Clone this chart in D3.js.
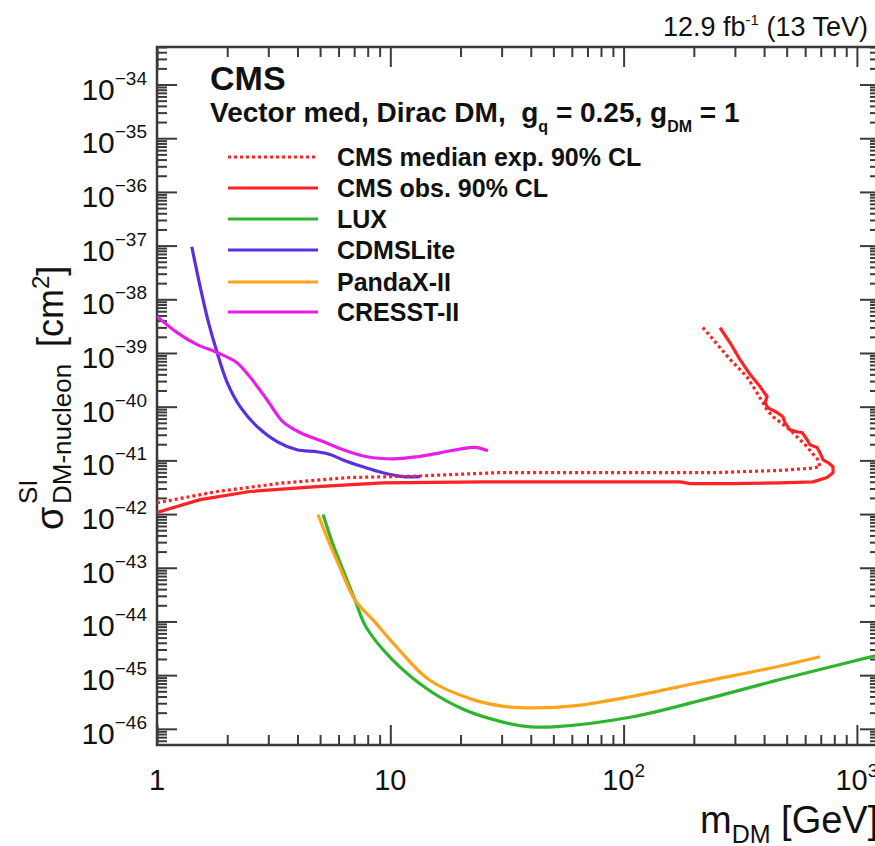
<!DOCTYPE html>
<html><head><meta charset="utf-8">
<script src="https://cdn.jsdelivr.net/npm/d3@7"></script>
<style>
body{margin:0;background:#fff}
svg{display:block}
text{font-family:"Liberation Sans",Arial,Helvetica,sans-serif;fill:#111}
</style>
</head><body><svg id="c" width="875" height="846"></svg>
<script>
// ---------- data ----------
const xDomain = [1, 1256];
const yDomain = [5e-47, 5e-34];
const xMajorTicks = [1, 10, 100, 1000];
const xTickLabels = [["1", ""], ["10", ""], ["10", "2"], ["10", "3"]];
const yExponents = [-34, -35, -36, -37, -38, -39, -40, -41, -42, -43, -44, -45, -46];

const cmsExpMass = [1, 1.81, 3.47, 6.72, 13.0, 28.7, 65, 242, 468, 648, 695, 681, 600, 517, 437, 412, 373, 338, 286, 242, 217];
const cmsExpSigma = [1.62e-42, 2.63e-42, 3.8e-42, 4.8e-42, 5.1e-42, 5.9e-42, 5.9e-42, 5.9e-42, 6.5e-42, 7.2e-42, 7.6e-42, 1.02e-41, 1.95e-41, 3.7e-41, 6.5e-41, 8.7e-41, 1.82e-40, 3.6e-40, 7.6e-40, 1.78e-39, 3.1e-39];

const cmsObsMass = [1, 1.53, 2.5, 4.85, 9.3, 25, 65, 175, 193, 286, 468, 648, 745, 790, 790, 752, 716, 695, 675, 629, 611, 582, 554, 517, 492, 482, 455, 416, 404, 412, 385, 348, 315, 286, 259];
const cmsObsSigma = [1.07e-42, 1.86e-42, 2.63e-42, 3.24e-42, 3.8e-42, 3.98e-42, 3.98e-42, 3.98e-42, 3.7e-42, 3.7e-42, 3.8e-42, 3.98e-42, 4.8e-42, 5.9e-42, 7.6e-42, 9.1e-42, 1.02e-41, 1.38e-41, 1.74e-41, 1.95e-41, 2.45e-41, 3.3e-41, 3.4e-41, 3.7e-41, 5.0e-41, 6.5e-41, 7.8e-41, 9.5e-41, 1.17e-40, 1.55e-40, 2.34e-40, 4.0e-40, 7.6e-40, 1.55e-39, 2.95e-39];

const luxMass = [5.15, 5.68, 6.39, 7.06, 7.87, 10.2, 14.5, 20.9, 30.1, 38.9, 51.8, 108, 221, 459, 944, 1300];
const luxSigma = [9.8e-43, 2.7e-43, 7.4e-44, 2.5e-44, 7.9e-45, 1.95e-45, 5.4e-46, 2.24e-46, 1.35e-46, 1.1e-46, 1.1e-46, 1.66e-46, 3.5e-46, 8.1e-46, 1.78e-45, 2.5e-45];

const cdmsMass = [1.41, 1.53, 1.65, 1.81, 2.0, 2.27, 2.68, 3.27, 3.98, 4.85, 5.52, 6.27, 7.64, 9.3, 11.3, 13.4];
const cdmsSigma = [9.5e-38, 1.74e-38, 4.2e-39, 1.02e-39, 2.8e-40, 1.0e-40, 4.3e-41, 2.24e-41, 1.58e-41, 1.45e-41, 1.29e-41, 1.02e-41, 7.6e-42, 5.9e-42, 5.0e-42, 5.0e-42];

const pandaMass = [4.90, 5.41, 6.09, 7.06, 8.43, 10.6, 14.7, 22.6, 31.3, 41.7, 62.5, 108, 221, 459, 695];
const pandaSigma = [9.8e-43, 3.3e-43, 1.0e-43, 2.5e-44, 1.07e-44, 3.4e-45, 8.1e-46, 3.5e-46, 2.6e-46, 2.45e-46, 2.7e-46, 4.0e-46, 7.6e-46, 1.45e-45, 2.2e-45];

const cresstMass = [1.0, 1.22, 1.48, 1.81, 2.2, 2.5, 2.96, 3.47, 4.1, 5.15, 6.27, 7.94, 10.3, 13.0, 16.3, 20.5, 23.1, 26.2];
const cresstSigma = [4.8e-39, 2.4e-39, 1.45e-39, 1.02e-39, 6.6e-40, 3.6e-40, 1.35e-40, 5.2e-41, 3.3e-41, 2.24e-41, 1.58e-41, 1.17e-41, 1.07e-41, 1.17e-41, 1.38e-41, 1.66e-41, 1.74e-41, 1.51e-41];

const legendLabels = ["CMS median exp. 90% CL", "CMS obs. 90% CL", "LUX", "CDMSLite", "PandaX-II", "CRESST-II"];

// ---------- layout ----------
const svg = d3.select("#c");
const X0 = 157, X1 = 880, Y0 = 47, Y1 = 745;
const x = d3.scaleLog().domain(xDomain).range([X0, X1]);
const y = d3.scaleLog().domain(yDomain).range([Y1, Y0]);
const axisColor = "#3a3a3a";

svg.append("defs").append("clipPath").attr("id", "clip")
  .append("rect").attr("x", X0).attr("y", Y0).attr("width", X1 - X0).attr("height", Y1 - Y0);

const xMinor = [];
[1, 10, 100, 1000].forEach(d => { for (let k = 2; k <= 9; k++) { const v = d * k; if (v < xDomain[1]) xMinor.push(v); } });
const yMinor = [];
for (let e = -47; e <= -34; e++) for (let k = 2; k <= 9; k++) { const v = k * Math.pow(10, e); if (v > yDomain[0] && v < yDomain[1]) yMinor.push(v); }
const yMajor = yExponents.map(e => Math.pow(10, e));

function styleAxis(g) {
  g.select(".domain").remove();
  g.selectAll("line").attr("stroke", axisColor).attr("stroke-width", 2);
  g.selectAll("text").remove();
}
svg.append("g").attr("transform", `translate(0,${Y1})`).call(d3.axisBottom(x).tickValues(xMajorTicks).tickSize(-20).tickFormat("")).call(styleAxis);
svg.append("g").attr("transform", `translate(0,${Y1})`).call(d3.axisBottom(x).tickValues(xMinor).tickSize(-10).tickFormat("")).call(styleAxis);
svg.append("g").attr("transform", `translate(0,${Y0})`).call(d3.axisTop(x).tickValues(xMajorTicks).tickSize(-20).tickFormat("")).call(styleAxis);
svg.append("g").attr("transform", `translate(0,${Y0})`).call(d3.axisTop(x).tickValues(xMinor).tickSize(-10).tickFormat("")).call(styleAxis);
svg.append("g").attr("transform", `translate(${X0},0)`).call(d3.axisLeft(y).tickValues(yMajor).tickSize(-20).tickFormat("")).call(styleAxis);
svg.append("g").attr("transform", `translate(${X0},0)`).call(d3.axisLeft(y).tickValues(yMinor).tickSize(-10).tickFormat("")).call(styleAxis);
svg.append("g").attr("transform", `translate(${X1},0)`).call(d3.axisRight(y).tickValues(yMajor).tickSize(-20).tickFormat("")).call(styleAxis);
svg.append("g").attr("transform", `translate(${X1},0)`).call(d3.axisRight(y).tickValues(yMinor).tickSize(-10).tickFormat("")).call(styleAxis);

svg.append("rect").attr("x", X0).attr("y", Y0).attr("width", X1 - X0).attr("height", Y1 - Y0)
  .attr("fill", "none").attr("stroke", axisColor).attr("stroke-width", 2.5);

// tick labels
xMajorTicks.forEach((v, i) => {
  const t = svg.append("text").attr("x", x(v)).attr("y", 790).attr("text-anchor", "middle").attr("font-size", 29);
  t.append("tspan").text(xTickLabels[i][0]);
  if (xTickLabels[i][1]) t.append("tspan").attr("dy", -13).attr("font-size", 19).text(xTickLabels[i][1]);
});
yExponents.forEach(e => {
  const t = svg.append("text").attr("x", 147).attr("y", y(Math.pow(10, e)) + 15).attr("text-anchor", "end").attr("font-size", 30);
  t.append("tspan").text("10");
  t.append("tspan").attr("dy", -15).attr("font-size", 19).text("\u2212" + Math.abs(e));
});

// axis titles
const xt = svg.append("text").attr("x", 700).attr("y", 833).attr("font-size", 38);
xt.append("tspan").text("m");
xt.append("tspan").attr("dy", 10).attr("font-size", 25).text("DM");
xt.append("tspan").attr("dy", -10).text(" [GeV]");

const yt = svg.append("g").attr("transform", "translate(63,530) rotate(-90)");
yt.append("text").attr("x", 0).attr("y", 0).attr("font-size", 38).text("\u03C3");
yt.append("text").attr("x", 26).attr("y", -26).attr("font-size", 26).text("SI");
yt.append("text").attr("x", 26).attr("y", 8).attr("font-size", 26).text("DM-nucleon");
const ytc = yt.append("text").attr("x", 183).attr("y", 0).attr("font-size", 36);
ytc.append("tspan").text("[cm");
ytc.append("tspan").attr("dy", -14).attr("font-size", 24).text("2");
ytc.append("tspan").attr("dy", 14).text("]");

// top-right lumi
const lumi = svg.append("text").attr("x", 663).attr("y", 36).attr("font-size", 27);
lumi.append("tspan").text("12.9 fb");
lumi.append("tspan").attr("dy", -11).attr("font-size", 15).text("-1");
lumi.append("tspan").attr("dy", 11).text(" (13 TeV)");

// CMS header
svg.append("text").attr("x", 210).attr("y", 90).attr("font-size", 34).attr("font-weight", "bold").text("CMS");
const sub = svg.append("text").attr("x", 210).attr("y", 122).attr("font-size", 28).attr("font-weight", "bold").style("white-space", "pre");
sub.append("tspan").text("Vector med, Dirac DM,  g");
sub.append("tspan").attr("dy", 10).attr("font-size", 16).text("q");
sub.append("tspan").attr("dy", -10).text(" = 0.25, g");
sub.append("tspan").attr("dy", 10).attr("font-size", 16).text("DM");
sub.append("tspan").attr("dy", -10).text(" = 1");

// ---------- curves ----------
const series = [
  { m: cmsExpMass, s: cmsExpSigma, color: "#ff2222", dash: "3,3", curve: d3.curveLinear },
  { m: cmsObsMass, s: cmsObsSigma, color: "#ff2222", dash: null, curve: d3.curveLinear },
  { m: luxMass, s: luxSigma, color: "#2db52d", dash: null, curve: d3.curveCatmullRom },
  { m: cdmsMass, s: cdmsSigma, color: "#5a2fe0", dash: null, curve: d3.curveCatmullRom },
  { m: pandaMass, s: pandaSigma, color: "#ffa31a", dash: null, curve: d3.curveCatmullRom },
  { m: cresstMass, s: cresstSigma, color: "#e81ee8", dash: null, curve: d3.curveCatmullRom }
];
const plotG = svg.append("g").attr("clip-path", "url(#clip)");
[3, 5, 2, 4, 0, 1].forEach(i => {
  const sr = series[i];
  const pts = sr.m.map((v, j) => [v, sr.s[j]]);
  const line = d3.line().x(d => x(d[0])).y(d => y(d[1])).curve(sr.curve);
  plotG.append("path").attr("d", line(pts)).attr("fill", "none")
    .attr("stroke", sr.color).attr("stroke-width", 3.2)
    .attr("stroke-dasharray", sr.dash).attr("stroke-linejoin", "round");
});

// ---------- legend ----------
const legRows = [157, 188, 219, 250, 282, 312];
series.forEach((sr, i) => {
  svg.append("line").attr("x1", 228).attr("x2", 318).attr("y1", legRows[i]).attr("y2", legRows[i])
    .attr("stroke", sr.color).attr("stroke-width", 3.2).attr("stroke-dasharray", sr.dash);
  svg.append("text").attr("x", 337).attr("y", legRows[i] + 9).attr("font-size", 25).attr("font-weight", "bold").text(legendLabels[i]);
});
</script>
</body></html>
